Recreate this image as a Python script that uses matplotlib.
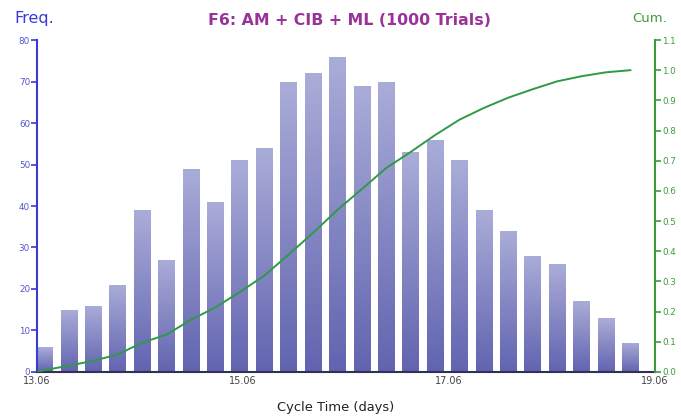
import matplotlib.pyplot as plt
import numpy as np
from matplotlib.colors import LinearSegmentedColormap

# Histogram of cycle time (1000 trials), 25 bins
freq = [6, 15, 16, 21, 39, 27, 49, 41, 51, 54, 70, 72, 76,
        69, 70, 53, 56, 51, 39, 34, 28, 26, 17, 13, 7]
x_start = 13.06
x_end = 19.06
first_center = 13.133
bin_width = 0.237
x_ticks = [13.06, 15.06, 17.06, 19.06]
freq_ticks = list(range(0, 81, 10))
cum_ticks = [round(0.1 * i, 1) for i in range(12)]

centers = first_center + bin_width * np.arange(len(freq))
cum = np.cumsum(freq) / np.sum(freq)

fig = plt.figure(figsize=(6.81, 4.19), dpi=100)
ax = fig.add_axes([0.0543, 0.1122, 0.9075, 0.7923])
ax2 = ax.twinx()

cmap = LinearSegmentedColormap.from_list("bar", ["#6264b0", "#aaacd8"])
grad = np.linspace(0, 1, 100).reshape(-1, 1)
bw = bin_width * 0.68
for c, f in zip(centers, freq):
    rect = plt.Rectangle((c - bw / 2, 0), bw, f, facecolor="none", edgecolor="none")
    ax.add_patch(rect)
    im = ax.imshow(grad, cmap=cmap, origin="lower", aspect="auto",
                   extent=(c - bw / 2, c + bw / 2, 0, f), zorder=2)
    im.set_clip_path(rect)

ax2.plot(np.r_[x_start, centers], np.r_[0, cum], color="#2f9a45", lw=1.4)

ax.set_xlim(x_start, x_end)
ax.set_ylim(0, 80)
ax2.set_ylim(0, 1.1)

ax.set_xticks(x_ticks)
ax.set_xticklabels([f"{v:.2f}" for v in x_ticks])
ax.set_yticks(freq_ticks)
ax2.set_yticks(cum_ticks)
ax2.set_yticklabels([f"{v:.1f}" for v in cum_ticks])

for a in (ax, ax2):
    a.spines["top"].set_visible(False)
ax.spines["right"].set_visible(False)
ax2.spines["left"].set_visible(False)
ax2.spines["bottom"].set_visible(False)
ax.spines["left"].set_color("#3a3ad8")
ax.spines["left"].set_linewidth(1.5)
ax2.spines["right"].set_color("#3c9c3c")
ax2.spines["right"].set_linewidth(1.5)
ax.spines["bottom"].set_color("#30305a")
ax.spines["bottom"].set_linewidth(1.5)

ax.tick_params(axis="x", length=0, labelsize=7, colors="#444444", pad=3)
ax.tick_params(axis="y", length=4, width=1.2, color="#3a3ad8",
               labelcolor="#5555cc", labelsize=6.3, pad=1)
ax2.tick_params(axis="y", length=4, width=1.2, color="#3c9c3c",
                labelcolor="#3c9c3c", labelsize=6.3, pad=1)

fig.text(0.5125, 0.951, "F6: AM + CIB + ML (1000 Trials)", ha="center", va="center",
         fontsize=11.3, fontweight="bold", color="#993399")
fig.text(0.021, 0.955, "Freq.", ha="left", va="center", fontsize=11.5, color="#3a3ad8")
fig.text(0.929, 0.955, "Cum.", ha="left", va="center", fontsize=9.5, color="#3c9c3c")
fig.text(0.4927, 0.0274, "Cycle Time (days)", ha="center", va="center",
         fontsize=9.4, color="#222222")

fig.savefig("out.png", dpi=100)
